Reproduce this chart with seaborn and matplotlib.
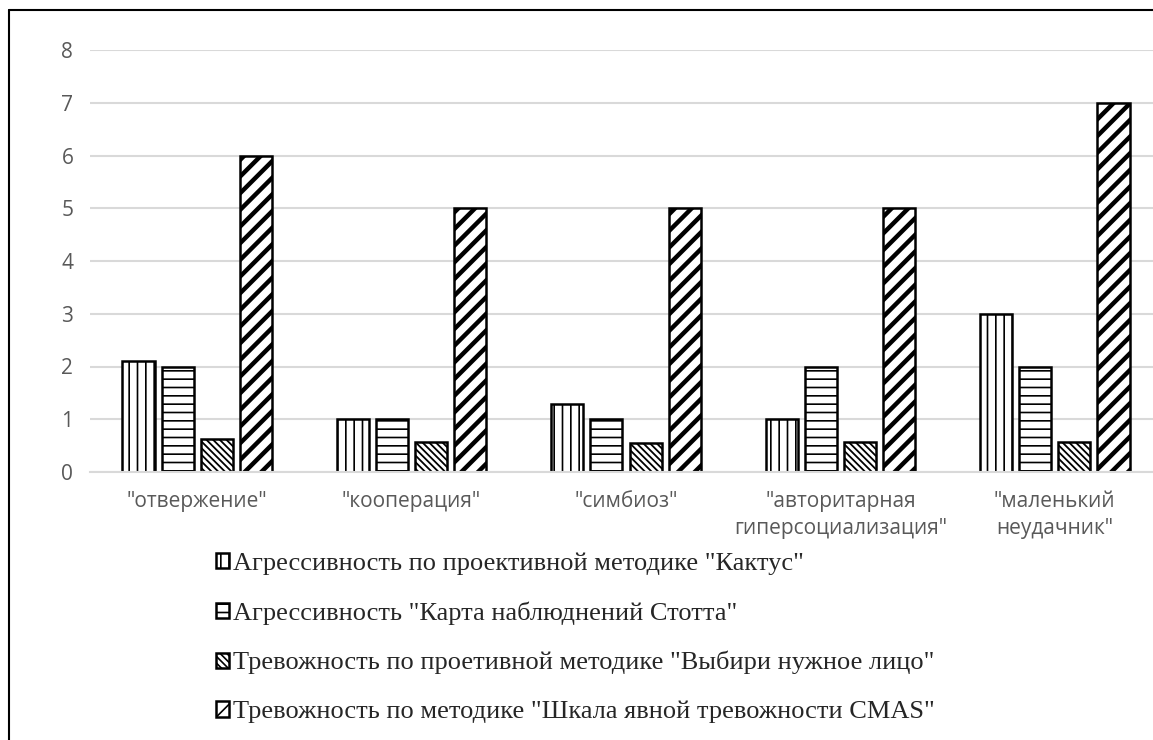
import matplotlib
matplotlib.use("Agg")
import matplotlib.pyplot as plt
from matplotlib.lines import Line2D
import pandas as pd
import seaborn as sns

categories = [
    '"отвержение"',
    '"кооперация"',
    '"симбиоз"',
    '"авторитарная\nгиперсоциализация"',
    '"маленький\nнеудачник"',
]
series = [
    'Агрессивность по проективной методике "Кактус"',
    'Агрессивность "Карта наблюднений Стотта"',
    'Тревожность по проетивной методике "Выбири нужное лицо"',
    'Тревожность по методике "Шкала явной тревожности CMAS"',
]
kaktus = [2.1, 1.0, 1.28, 1.0, 3.0]
stott = [2.0, 1.0, 1.0, 2.0, 2.0]
litso = [0.63, 0.57, 0.55, 0.57, 0.57]
cmas = [6.0, 5.0, 5.0, 5.0, 7.0]
hatches = ["||", "--", "\\" * 5, "//"]
hatch_lw = [1.2, 1.2, 1.3, 3.2]

rows = []
for name, vals in zip(series, [kaktus, stott, litso, cmas]):
    for cat, v in zip(categories, vals):
        rows.append({"cat": cat, "series": name, "value": v})
df = pd.DataFrame(rows)

sns.set_style("white")
plt.rcParams["hatch.linewidth"] = 1.2

fig = plt.figure(figsize=(11.53, 7.40), dpi=100)
ax = fig.add_axes([90 / 1153, 268 / 740, 1072 / 1153, 422 / 740])

sns.barplot(data=df, x="cat", y="value", hue="series", order=categories,
            hue_order=series, palette=["white"] * 4, edgecolor="black",
            linewidth=1.8, width=0.73, gap=0.18, legend=False, ax=ax)

for cont, h, lw in zip(ax.containers, hatches, hatch_lw):
    for bar in cont:
        bar.set_hatch(h)
        if hasattr(bar, "set_hatch_linewidth"):
            bar.set_hatch_linewidth(lw)

ax.set_ylim(0, 8)
ax.set_yticks(range(0, 9))
ax.yaxis.grid(True, color="#d9d9d9", linewidth=1.5)
ax.set_axisbelow(True)
for s in ["top", "right", "left"]:
    ax.spines[s].set_visible(False)
ax.spines["bottom"].set_color("#d9d9d9")
ax.spines["bottom"].set_linewidth(1.5)
ax.tick_params(axis="both", length=0, labelsize=15, labelcolor="#595959")
ax.tick_params(axis="y", pad=12)
ax.tick_params(axis="x", pad=14)
for lbl in ax.get_xticklabels() + ax.get_yticklabels():
    lbl.set_family("Open Sans")
for lbl in ax.get_xticklabels():
    lbl.set_linespacing(1.35)
ax.set_xlabel("")
ax.set_ylabel("")

handles = [cont.patches[0] for cont in ax.containers]
leg = fig.legend(handles, series, loc="upper left",
                 bbox_to_anchor=(203 / 1153, 1 - 539 / 740), frameon=False,
                 prop={"family": "Liberation Serif", "size": 19},
                 handlelength=0.5, handleheight=0.5, handletextpad=0.15,
                 labelspacing=1.0, borderpad=0)

fig.add_artist(Line2D([9 / 1153, 9 / 1153], [0, 1 - 10 / 740], color="black", linewidth=1.5))
fig.add_artist(Line2D([9 / 1153, 1], [1 - 10 / 740, 1 - 10 / 740], color="black", linewidth=1.5))

fig.savefig("out.png", dpi=100)
